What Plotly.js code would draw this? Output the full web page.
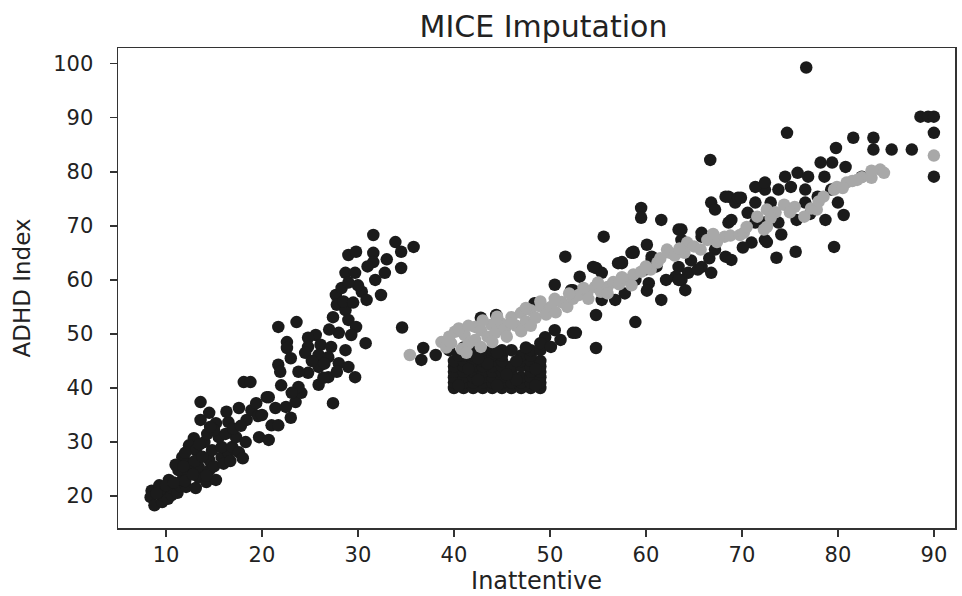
<!DOCTYPE html>
<html>
<head>
<meta charset="utf-8">
<script src="https://cdn.plot.ly/plotly-3.0.1.min.js"></script>
<style>html,body{margin:0;padding:0;background:#fff;}#chart{width:962px;height:596px;}</style>
</head>
<body>
<div id="chart"></div>
<script>
// Observed (black) points: [Inattentive, ADHD Index]
var observedLeft = [
[8.5,21],[8.4,19.8],[8.8,18.3],[9.6,18.9],[9.6,20.2],[9.3,22],[10.2,19.5],[10.6,20.2],[10.6,21.5],[10.3,23],
[11.2,20.6],[11.5,21.8],[12.1,21.7],[11.7,23],[11.3,24.8],[12.4,24.3],[12.4,26.1],[11.7,27.2],[13.1,21.5],[13.4,23.5],
[13.4,25.4],[14.2,22.6],[14.5,24.8],[14.5,26.7],[15.2,23],[15.8,27.2],[16.5,28],[12.9,30.7],[12.4,29.4],[13.1,28.5],
[14.8,28.5],[15.8,29.1],[15.5,30.9],[16.9,29.1],[17.6,28.1],[17.3,30.9],[18.3,30],[19.7,30.9],[20.7,30.4],[13.6,34.1],
[15.2,33.5],[16.5,33.7],[18.4,34.1],[14.5,35.4],[16.3,35.6],[17.6,36.3],[18.9,35.9],[19.4,37.2],[20.5,38.3],[21.4,36.3],
[22.5,36.5],[23.5,37.4],[24.1,39.1],[21,33.1],[21.7,33.1],[13.6,37.4],[18.1,41.1],
[12,22.8],[12.8,24],[13,26.5],[13.8,27.3],[15,25.5],[16,26],[14,30],[14.3,31.5],[15,32.2],[16.2,31.5],[17,32.5],
[17.8,33],[19.6,34.8],[18,27],[12,28],[16.7,26.5],[10,22],[11,25.8],[14.2,23.8],[9,20.5],[10.8,22.5],[11.8,25.5],
[13.5,29.6],[14.6,32.8]
];
var observedUpperLeft = [
[31.6,68.3],[33.9,67],[35.8,66.1],[34.5,65.2],[29,64.6],[29.8,65.2],[31.6,65],[31.6,63.3],[28.7,61.3],[29.7,61.3],
[32.8,61.3],[31.8,60],[34.5,62.2],[27.7,57.2],[30.4,57.8],[32.4,57.2],[30.9,56.3],[27.8,55.4],[28.7,54.4],[27.4,53.1],
[29,52.6],[29.8,51.3],[21.7,51.3],[23.6,52.2],[34.6,51.2],[28,50.2],[29.3,49.8],[25.6,49.8],[24.8,49.3],[22.6,48.5],
[22.6,47.4],[24.8,47.6],[26.1,48],[27.2,47.6],[30.8,48.3],[28.7,47],[24.5,46.5],[25.9,46.1],[26.9,45.7],[28,44.6],
[21.7,44.3],[25.9,43.9],[29,43.9],[24.8,42.8],[23.8,43],[29.7,42],[21.9,43],[26.9,42],[18.8,41.1],[23.8,40.2],
[25.9,40.6],[23.1,39.1],[20.7,38.3],[27.4,37.2],[26.4,41.9],
[28.3,58.5],[28.5,56],[29.5,55.8],[30,59],[29,59.5],[27,50.8],[26.5,44.5],[27.8,43],[25.2,45],[23,45.5],
[22,40.5],[20,35],[23,34.5],[31,62.5],[33,63.8]
];
var observedMiddle = [
[36.8,47.4],[36.6,45.2],[38.1,46.1],
[40,40],[41,40],[42,40],[43,40],[44,40],[45,40],[46,40],[47,40],[48,40],[49,40],
[40,41],[41,41],[42,41],[43,41],[44,41],[45,41],[46,41],[47,41],[48,41],[49,41],
[40,42],[41,42],[42,42],[43,42],[44,42],[45,42],[47,42],[48,42],[49,42],
[40,43],[41,43],[42,43],[43,43],[44,43],[45,43],[46,43],[48,43],[49,43],
[40,44],[41,44],[42,44],[43,44],[44,44],[45,44],[46,44],[47,44],[48,44],[49,44],
[40,45],[41,45],[42,45],[43,45],[44,45],[45,45],[47,45],[48,45],[49,45],
[41,46],[42,46],[43,46],[44,46],[45,46],[47,46],[48,46],
[42,47],[43,47],[44,47],[45,47],[46,47],[48,47],[49,47],
[40.5,40.5],[42.5,41.5],[44.5,40.5],[46.5,41.5],[48.5,40.5],[41.5,43.5],[43.5,44.5],[45.5,42.5],[48.5,43.5],
[40.5,46],[42.5,45.5],[44.5,46.5],[46.5,45],[39.5,47],[41,47.5],[47.5,47.5],
[42.8,53],[44.4,53.5],[48.4,55.7],[50.5,59.1],[51.6,64.3],[53.1,60.6],[52.4,58.1],[54.8,62.2],[55.4,61.3],[57.5,63.1],
[58.7,65],[49.5,49.4],[51.1,48.9],[52.4,50.2],[50.5,50.7],[49,48.3],[50.1,47.6],[54.8,47.4],[54.8,53.5],[56.8,56.3],
[58.9,52.2],[61.6,56.3],[55.4,56.3],[52.7,50.2],[52.2,58.1]
];
var observedRight = [
[59.5,73.3],[59.5,71.5],[61.6,71.1],[55.6,68],[58.7,65.2],[57.5,63.3],[60.6,64.3],[54.5,62.4],[59.9,61.9],[58.9,60],
[60.3,59.4],[63.4,62.4],[63.1,60.6],[64.4,61.3],[65.8,62.4],[66.8,61.3],[63.7,60],[64.1,58.1],[63.7,69.3],[63.7,67.4],
[65.8,68],[68.6,70.6],[68.3,64.3],[68.9,63.7],[66.8,74.3],[68.6,75.4],[69.3,74.3],[70.6,72.4],[71.4,70.6],[72.4,76.7],
[72.4,67.4],[71,66.9],[76.7,99.3],[74.7,87.2],[66.7,82.2],[81.6,86.3],[83.7,86.3],[83.7,84.1],[85.6,84.1],[87.7,84.1],
[88.6,90.2],[89.4,90.2],[90,90.2],[90,87.2],[90,79.1],[79.8,84.4],[82.5,79.1],[79.6,66.1],[80.6,72],[78.7,71.1],
[75.7,71.1],[75.6,65.2],[73.6,64.1],[72.6,67],[79.4,81.7],[80.8,80.9],[67.2,73],[68.3,75.4],[69.6,75.2],[71.4,77.2],
[72.4,78],[73.8,76.7],[74.5,79.1],[75.8,79.8],[76.9,79.1],[75.1,77.2],[76.6,76.7],[78.2,81.7],[78.6,79.1],[71.4,74.3],
[73,74.3],[68.9,71.1],[72.4,70.6],[73.8,70.6],[76.6,74.3],[77.9,75.4],[79.3,76.7],[80,74.3],[65.4,61.9],[67.2,65.6],
[63.4,69.3],[65.8,68.7],[58.5,65],[60.6,63.7],[57.1,63.1],[63.4,60],[69.9,75.2],[60.1,66.5],[61.1,62.5],[62.1,60],
[64.7,63.6],[66.6,64],[70.1,66],[74.1,68.4],[77.1,72.2],[57.8,57.5],[60.1,58]
];
// Imputed (grey) points
var imputed = [
[35.4,46.1],[38.7,48.5],[39.2,47.5],[39.7,48.3],[40.1,50.4],[40.8,47.2],[41.1,49.8],[41.5,48.2],[42.2,51.3],[42.2,48.9],
[42.8,47.6],[42.8,50.7],[43.5,49.5],[43.9,51.7],[44.3,50.2],[44.9,52],[45.3,50.8],[46,53.1],[46.5,51.5],[47,53.9],
[47.5,52.3],[48,54.4],[48.5,53],[49.1,55],[49.6,53.6],[50.1,55],[50.6,54],[51.2,55.9],[51.8,55],[52.4,56.5],
[53,57.2],[53.9,57.6],[54.7,58.7],[55.3,57.8],[56,58.7],[56.6,59.6],[57.2,59.2],[58.1,60],[58.7,61],[59.5,61.5],
[60.5,61.9],[61.2,63.2],[62.2,65.6],[62.5,65],[63,64.5],[64.3,66.9],[65,66.2],[65.7,65.6],[66.4,67.4],[67.4,67],
[68.2,68],[68.8,68.2],[69.8,68.3],[70.2,68.7],[71.6,71.7],[72.3,69.3],[72.6,69.8],[72.6,73],[73.5,72.5],[74.4,73.9],
[75.5,73.5],[76.5,71.7],[77.2,73.2],[77.8,73],[78.5,75.4],[79.6,76.7],[79.9,77.2],[80.9,78],[81.5,78.3],[82.5,79],
[83.5,78.9],[84.4,80.4],[84.8,79.8],[90,83],[44,48.5],[45.5,49.5],[47,50.5],[48,51.5],[41.3,46.5],[57.5,60.5],
[60,62.5],[64,65],
[39.5,49.5],[40.5,51],[41.5,51.5],[43,52.5],[44.5,53.2],[46,52],[47.5,54.8],[49,56],[50.5,56.5],[52,57.5],
[53.5,58.5],[55,59.5],[54,56.5],[56,57.5],[58.5,59],[61.5,64],[63.5,65.8],[67,68.5],[70.5,69.8],[73,71.5],
[75,72.5],[78,74.5],[80.5,77],[82,78.5],[83.5,80.2]
];
var xTicks = [10,20,30,40,50,60,70,80,90];
var yTicks = [20,30,40,50,60,70,80,90,100];

var observed = observedLeft.concat(observedUpperLeft, observedMiddle, observedRight);
var font = "DejaVu Sans, sans-serif";

var traces = [
  {x: observed.map(function(p){return p[0];}), y: observed.map(function(p){return p[1];}),
   type: 'scatter', mode: 'markers', name: 'observed',
   marker: {color: '#1b1b1b', size: 12.5, line: {width: 0}}},
  {x: imputed.map(function(p){return p[0];}), y: imputed.map(function(p){return p[1];}),
   type: 'scatter', mode: 'markers', name: 'imputed',
   marker: {color: '#a8a8a8', size: 12.5, line: {width: 0}}}
];

var axisCommon = {
  showgrid: false, zeroline: false, showline: true, mirror: true,
  linecolor: '#333', linewidth: 1.5,
  ticks: 'outside', ticklen: 7, tickwidth: 1.5, tickcolor: '#333',
  tickfont: {family: font, size: 21, color: '#222'}
};

var layout = {
  width: 962, height: 596,
  margin: {l: 118, r: 7, t: 48, b: 68},
  paper_bgcolor: '#fff', plot_bgcolor: '#fff',
  showlegend: false,
  font: {family: font, color: '#222'},
  title: {text: 'MICE Imputation', font: {family: font, size: 30, color: '#222'},
          x: 0.565, xanchor: 'center', y: 0.955, yanchor: 'middle', yref: 'container'},
  xaxis: Object.assign({}, axisCommon, {
    range: [5, 92.2], tickvals: xTicks, ticktext: xTicks.map(String),
    title: {text: 'Inattentive', font: {family: font, size: 24, color: '#222'}, standoff: 6}
  }),
  yaxis: Object.assign({}, axisCommon, {
    range: [14.1, 102.9], tickvals: yTicks, ticktext: yTicks.map(String),
    ticklabelstandoff: 12,
    title: {text: 'ADHD Index', font: {family: font, size: 23, color: '#222'}, standoff: 16}
  })
};

Plotly.newPlot('chart', traces, layout, {displayModeBar: false, staticPlot: true});
</script>
</body>
</html>
